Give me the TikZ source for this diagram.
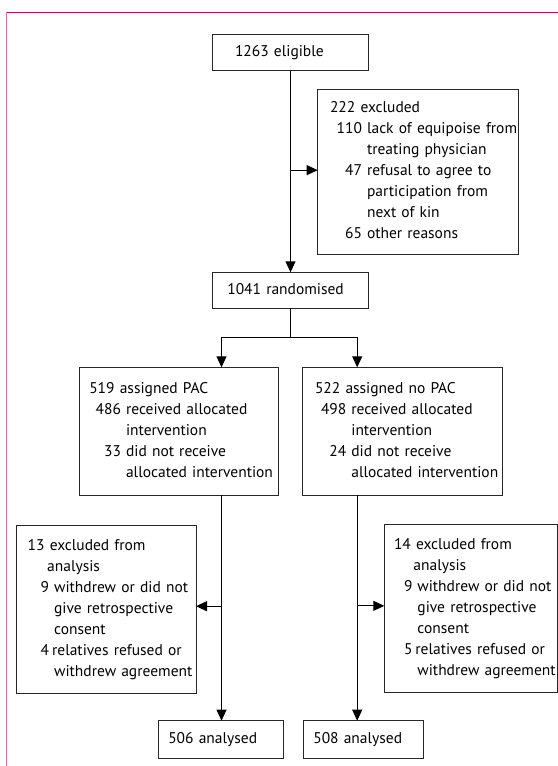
\documentclass[tikz,border=0pt]{standalone}
\usepackage{fontspec}
\setmainfont{PT Sans}
\usetikzlibrary{arrows.meta}
\definecolor{framered}{RGB}{196,18,72}
\definecolor{framepink}{RGB}{228,112,148}
\definecolor{boxline}{RGB}{40,40,40}
\begin{document}
\begin{tikzpicture}[x=1bp,y=-1bp,
  box/.style={draw=boxline, line width=0.9bp, rectangle, anchor=north west,
    inner xsep=0pt, inner ysep=0pt, outer sep=0pt, align=left,
    font=\fontsize{15.5bp}{21bp}\selectfont},
  arr/.style={-{Triangle[length=11bp,width=10bp]}, line width=0.9bp},
  ln/.style={line width=0.9bp},
  frametop/.style={draw=framered, line width=1bp},
  frameleft/.style={draw=framepink, line width=1bp}]
\useasboundingbox (0,0) rectangle (558,766);
% frame
\coordinate (fc) at (6.3,12.3);
\coordinate (fr) at (558,12.3);
\coordinate (fb) at (6.3,766);
\draw[frametop] (fc) -- (fr);
\draw[frameleft] (fc) -- (fb);
% boxes
\node[box, text width=155.6bp, minimum height=36.4bp] (elig) at (212.7,34.3)
  {\noindent\hspace*{22.3bp}\begin{tabular}{@{}l@{}}1263 eligible\end{tabular}};
\node[box, text width=200.6bp, minimum height=164.7bp] (excl) at (317.7,89.3)
  {\noindent\hspace*{12.3bp}\begin{tabular}{@{\hspace{6.7bp}}r@{\hspace{5bp}}l@{}}
   \multicolumn{2}{@{}l@{}}{222 excluded}\\
   110 & lack of equipoise from\\
       & treating physician\\
   47  & refusal to agree to\\
       & participation from\\
       & next of kin\\
   65  & other reasons
   \end{tabular}};
\node[box, text width=155.6bp, minimum height=36bp] (rand) at (212.7,272.3)
  {\noindent\hspace*{14.6bp}\begin{tabular}{@{}l@{}}1041 randomised\end{tabular}};
\node[box, text width=199.7bp, minimum height=128bp] (pac) at (79,367.3)
  {\noindent\hspace*{10.3bp}\begin{tabular}{@{\hspace{6.4bp}}r@{\hspace{5bp}}l@{}}
   \multicolumn{2}{@{}l@{}}{519 assigned PAC}\\
   486 & received allocated\\
       & intervention\\
   33  & did not receive\\
       & allocated intervention
   \end{tabular}};
\node[box, text width=199.7bp, minimum height=128bp] (nopac) at (302.3,367.3)
  {\noindent\hspace*{12.7bp}\begin{tabular}{@{\hspace{6bp}}r@{\hspace{5bp}}l@{}}
   \multicolumn{2}{@{}l@{}}{522 assigned no PAC}\\
   498 & received allocated\\
       & intervention\\
   24  & did not receive\\
       & allocated intervention
   \end{tabular}};
\node[box, text width=179.3bp, minimum height=168bp] (exL) at (16.7,525.7)
  {\noindent\hspace*{11bp}\begin{tabular}{@{\hspace{13bp}}r@{\hspace{5bp}}l@{}}
   \multicolumn{2}{@{}l@{}}{13 excluded from}\\
     & \hspace*{-7bp}analysis\\
   9 & withdrew or did not\\
     & give retrospective\\
     & consent\\
   4 & \hspace*{-2bp}relatives refused or\\
     & withdrew agreement
   \end{tabular}};
\node[box, text width=172.8bp, minimum height=167.3bp] (exR) at (384.3,524.7)
  {\noindent\hspace*{9.7bp}\begin{tabular}{@{\hspace{10bp}}r@{\hspace{5bp}}l@{}}
   \multicolumn{2}{@{}l@{}}{14 excluded from}\\
     & \hspace*{-4bp}analysis\\
   9 & withdrew or did not\\
     & give retrospective\\
     & consent\\
   5 & \hspace*{-2bp}relatives refused or\\
     & withdrew agreement
   \end{tabular}};
\node[box, text width=125.4bp, minimum height=37.6bp] (anL) at (158.3,720.7)
  {\noindent\hspace*{10bp}\begin{tabular}{@{}l@{}}506 analysed\end{tabular}};
\node[box, text width=120bp, minimum height=37.6bp] (anR) at (303.3,720.7)
  {\noindent\hspace*{10bp}\begin{tabular}{@{}l@{}}508 analysed\end{tabular}};
% connectors
\coordinate (Lx) at (221.5,337.7);
\coordinate (Rx) at (357.2,337.7);
\coordinate (sp) at (290.5,337.7);
\draw[arr] (elig.south) -- (rand.north);
\draw[arr] (elig.south |- excl.west) ++(0,-1.5) coordinate (ex1) -- (ex1 -| excl.west);
\draw[ln] (rand.south) -- (sp);
\draw[arr] (sp) -| (Lx |- pac.north);
\draw[arr] (sp) -| (Rx |- nopac.north);
\draw[arr] (Lx |- pac.south) -- (Lx |- anL.north);
\draw[arr] (Rx |- nopac.south) -- (Rx |- anR.north);
\draw[arr] (Lx |- exL.east) ++(0,-3.5) coordinate (ex2) -- (ex2 -| exL.east);
\draw[arr] (Rx |- exR.east) ++(0,-2.5) coordinate (ex3) -- (ex3 -| exR.west);
\end{tikzpicture}
\end{document}
